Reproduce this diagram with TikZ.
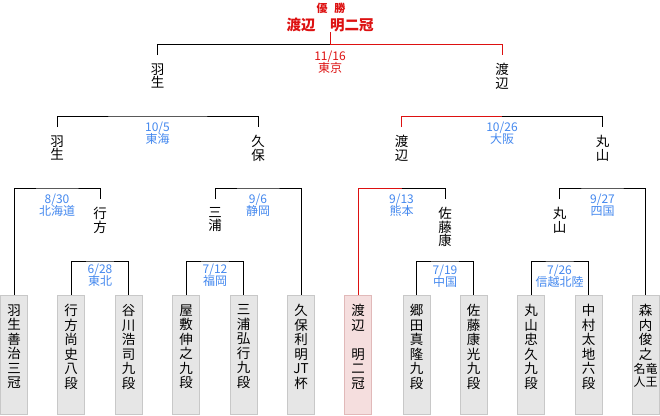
\documentclass[tikz,border=0pt]{standalone}
\usepackage{fontspec}
\setmainfont{Noto Sans CJK JP}
\usetikzlibrary{positioning}
\definecolor{winred}{RGB}{221,17,17}
\definecolor{dateblue}{RGB}{68,136,238}
\definecolor{boxfill}{RGB}{230,230,230}
\definecolor{boxline}{RGB}{200,200,200}
\definecolor{champfill}{RGB}{245,222,222}
\definecolor{champline}{RGB}{225,185,185}
\tikzset{
  player/.style={rectangle,draw=boxline,fill=boxfill,minimum width=27pt,minimum height=119pt,anchor=north,inner sep=0pt},
  champbox/.style={player,draw=champline,fill=champfill},
  pname/.style={anchor=north,align=center,inner sep=0pt,font=\fontsize{13.5}{14.5}\selectfont},
  seed/.style={anchor=north,align=center,inner xsep=0pt,inner ysep=8pt,font=\fontsize{13.5}{13.3}\selectfont},
  venue/.style={anchor=north,align=center,inner sep=0pt,text=dateblue,font=\fontsize{12}{12.5}\selectfont},
  title/.style={text=winred,inner sep=0pt,font=\bfseries\fontsize{14.5}{16}\selectfont},
  win/.style={draw=winred},
}

\begin{document}
\begin{tikzpicture}[x=1pt,y=-1pt,line width=1pt]
  \useasboundingbox (0,0) rectangle (660,415);
  % entries
  \node[player] (p1) at (14,295) {};
  \node[player] (p2) at (71,295) {};
  \node[player] (p3) at (128.5,295) {};
  \node[player] (p4) at (186,295) {};
  \node[player] (p5) at (243.5,295) {};
  \node[player] (p6) at (301,295) {};
  \node[champbox] (p7) at (358,295) {};
  \node[player] (p8) at (416.5,295) {};
  \node[player] (p9) at (473.5,295) {};
  \node[player] (p10) at (531,295) {};
  \node[player] (p11) at (588.5,295) {};
  \node[player] (p12) at (645.5,295) {};
  \node[pname,below=9pt of p1.north] (t1) {羽\\生\\善\\治\\三\\冠};
  \node[pname,below=9pt of p2.north] (t2) {行\\方\\尚\\史\\八\\段};
  \node[pname,below=9pt of p3.north] (t3) {谷\\川\\浩\\司\\九\\段};
  \node[pname,below=9pt of p4.north] (t4) {屋\\敷\\伸\\之\\九\\段};
  \node[pname,below=9pt of p5.north] (t5) {三\\浦\\弘\\行\\九\\段};
  \node[pname,below=9pt of p6.north] (t6) {久\\保\\利\\明\\JT\\杯};
  \node[pname,below=9pt of p7.north] (t7) {渡\\辺\\[14.5pt]明\\二\\冠};
  \node[pname,below=9pt of p8.north] (t8) {郷\\田\\真\\隆\\九\\段};
  \node[pname,below=9pt of p9.north] (t9) {佐\\藤\\康\\光\\九\\段};
  \node[pname,below=9pt of p10.north] (t10) {丸\\山\\忠\\久\\九\\段};
  \node[pname,below=9pt of p11.north] (t11) {中\\村\\太\\地\\六\\段};
  \node[pname,below=9pt of p12.north] (t12) {森\\内\\俊\\之\\[2pt]{\fontsize{12}{12}\selectfont\renewcommand\arraystretch{0.9}\begin{tabular}{@{}c@{}c@{}}名&竜\\人&王\end{tabular}}};

  % joints of the brackets
  \coordinate (j1) at (100,261);
  \coordinate (j2) at (215,261);
  \coordinate (j3) at (445,261);
  \coordinate (j4) at (559.5,261);
  \coordinate (k1) at (57,188);
  \coordinate (k2) at (258,188);
  \coordinate (k3) at (401.5,188);
  \coordinate (k4) at (602.5,188);
  \coordinate (m1) at (157.5,116);
  \coordinate (m2) at (502,116);
  \coordinate (top) at (330,44);

  % winners of each round
  \node[seed] (s1) at (100,199) {行\\方};
  \node[seed] (s2) at (215,199) {三\\浦};
  \node[seed] (s3) at (445,199) {佐\\藤\\康};
  \node[seed] (s4) at (559.5,199) {丸\\山};
  \node[seed] (r1) at (57,127) {羽\\生};
  \node[seed] (r2) at (258,127) {久\\保};
  \node[seed] (r3) at (401.5,127) {渡\\辺};
  \node[seed] (r4) at (602.5,127) {丸\\山};
  \node[seed] (f1) at (157.5,55) {羽\\生};
  \node[seed] (f2) at (502,55) {渡\\辺};
  \node[title] (champ) at (330,25) {渡辺\hspace{1em}明二冠};
  \node[title,font=\bfseries\fontsize{11}{12}\selectfont] (yusho) at (331,8) {優\hspace{0.6em}勝};

  % brackets
  \draw (p2.north) |- (j1) -| (p3.north);
  \draw (p4.north) |- (j2) -| (p5.north);
  \draw (p8.north) |- (j3) -| (p9.north);
  \draw (p10.north) |- (j4) -| (p11.north);
  \draw (p1.north) |- (k1) -| (s1.north);
  \draw (s2.north) |- (k2) -| (p6.north);
  \draw[win] (p7.north) |- (k3);
  \draw (k3) -| (s3.north);
  \draw (s4.north) |- (k4) -| (p12.north);
  \draw (r1.north) |- (m1) -| (r2.north);
  \draw[win] (r3.north) |- (m2);
  \draw (m2) -| (r4.north);
  \draw (f1.north) |- (top);
  \draw[win] (top) -| (f2.north);
  \draw[win] (top) -- (champ.south -| top);

  % dates and venues
  \node[venue,below=2pt of j1] (v1) {6/28\\東北};
  \node[venue,below=2pt of j2] (v2) {7/12\\福岡};
  \node[venue,below=3pt of j3] (v3) {7/19\\中国};
  \node[venue,below=3pt of j4] (v4) {7/26\\信越北陸};
  \node[venue,below=5pt of k1] (v5) {8/30\\北海道};
  \node[venue,below=5pt of k2] (v6) {9/6\\静岡};
  \node[venue,below=5pt of k3] (v7) {9/13\\熊本};
  \node[venue,below=5pt of k4] (v8) {9/27\\四国};
  \node[venue,below=5pt of m1] (v9) {10/5\\東海};
  \node[venue,below=5pt of m2] (v10) {10/26\\大阪};
  \node[venue,text=winred,below=6pt of top] (v11) {11/16\\東京};
\end{tikzpicture}
\end{document}
